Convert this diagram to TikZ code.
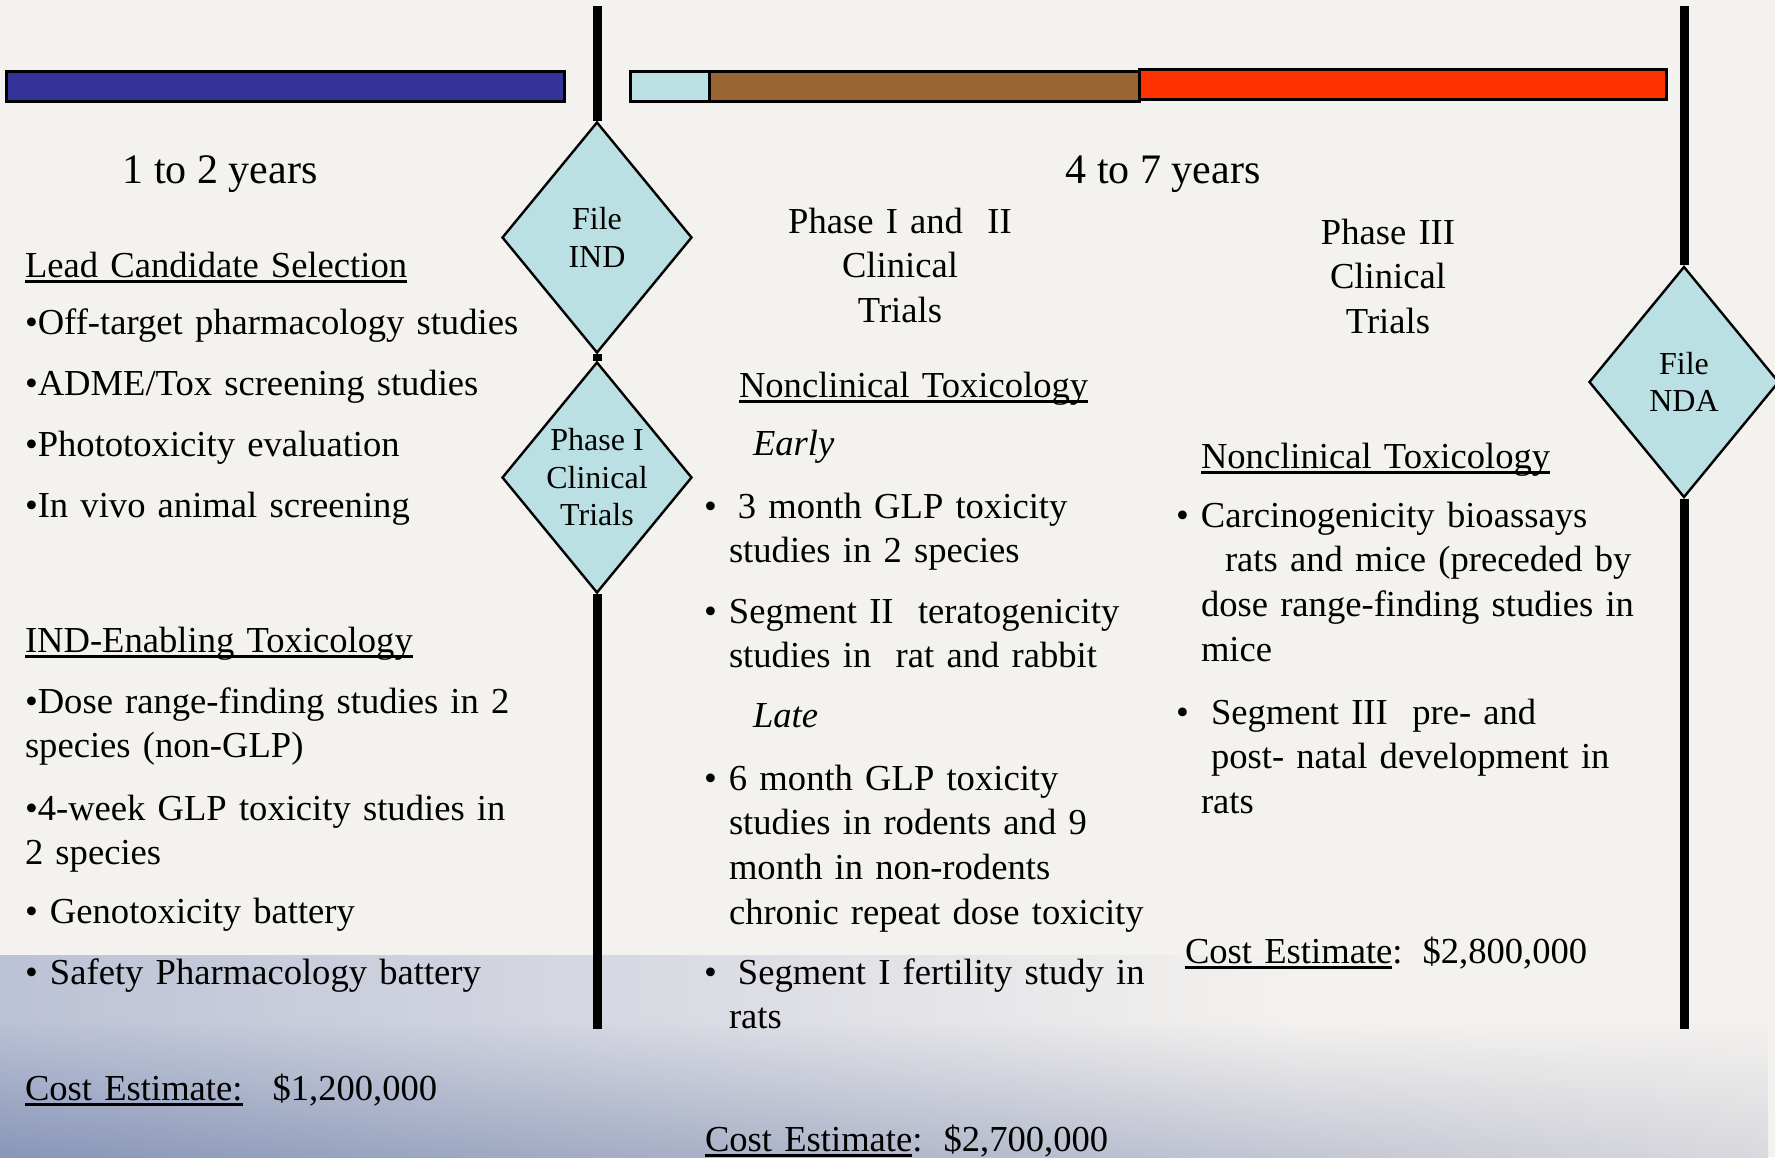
\documentclass[tikz,border=0pt]{standalone}
\usepackage{fontspec}
\setmainfont{Liberation Serif}
\usepackage{xcolor}
\usepackage{tikz}
\usetikzlibrary{shapes.geometric,positioning,backgrounds,fadings}
\definecolor{paper}{HTML}{F4F2EF}
\definecolor{bandtop}{HTML}{BCC2D6}
\definecolor{bandlow}{HTML}{8896B8}
\definecolor{bandright}{HTML}{D9D9DE}
\definecolor{leadblue}{HTML}{333399}
\definecolor{gatefill}{HTML}{BAE0E3}
\definecolor{trialbrown}{HTML}{996633}
\definecolor{trialred}{HTML}{FF3300}
\newsavebox{\ulinebox}
\newcommand{\hdline}[1]{\sbox{\ulinebox}{#1}\rlap{\rule[-5.5pt]{\wd\ulinebox}{2.5pt}}\usebox{\ulinebox}}
\newcommand{\bul}{\makebox[25pt][l]{•}}
\newcommand{\bodyfont}{\fontsize{36.6}{44.7}\selectfont}

\begin{document}
\begin{tikzpicture}[
  x=1pt, y=-1pt,
  txt/.style={anchor=base west, inner sep=0pt, outer sep=0pt, font=\bodyfont, text width=520pt, align=left},
  ctr/.style={anchor=base, inner sep=0pt, font=\bodyfont, text width=300pt, align=center},
  head/.style={anchor=base, inner sep=0pt, font=\fontsize{42}{48}\selectfont},
  gate/.style={diamond, aspect=0.82, draw=black, line width=2.4pt, fill=gatefill, inner sep=0pt, minimum width=190pt, minimum height=231pt, align=center, font=\fontsize{32}{37.5}\selectfont},
  bar/.style={draw=black, line width=3pt},
  rail/.style={line width=9pt, draw=black}
]
\useasboundingbox (0,0) rectangle (1775,1157);

% timeline bars
\draw[bar, fill=leadblue] (6,71) rectangle (564,101);
\draw[bar, fill=gatefill] (630,71) rectangle (709,101);
\draw[bar, fill=trialbrown] (709,71) rectangle (1139,101);
\draw[bar, fill=trialred] (1139,69) rectangle (1666,99);

% milestones
\coordinate (indtop) at (597,6);
\coordinate (indbot) at (597,1029);
\coordinate (ndatop) at (1684,6);
\coordinate (ndabot) at (1684,1029);
\node[gate] (ind) at (597,237.5) {File\\IND};
\node[gate] (ph1) at (597,477.5) {Phase I\\Clinical\\Trials};
\node[gate] (nda) at (1684,382) {File\\NDA};

% durations
\node[head] (yrsA) at (220,183) {1 to 2 years};
\node[head] (yrsB) at (1163,183) {4 to 7 years};

% preclinical column
\node[txt] (leadhd) at (25,277) {\hdline{Lead Candidate Selection}};
\node[txt] (offtgt) at (25,334) {•Off-target pharmacology studies};
\node[txt] (adme) at (25,395) {•ADME/Tox screening studies};
\node[txt] (photo) at (25,456) {•Phototoxicity evaluation};
\node[txt] (invivo) at (25,517) {•In vivo animal screening};
\node[txt] (indhd) at (25,652) {\hdline{IND-Enabling Toxicology}};
\node[txt] (dose) at (25,713) {•Dose range-finding studies in 2\\species (non-GLP)};
\node[txt] (fourwk) at (25,820) {•4-week GLP toxicity studies in\\2 species};
\node[txt] (geno) at (25,923) {• Genotoxicity battery};
\node[txt] (safety) at (25,984) {• Safety Pharmacology battery};
\node[txt] (costA) at (25,1100) {\hdline{Cost Estimate:}\hspace{30pt}\$1,200,000};

% phase I/II column
\node[ctr] (ph12) at (900,233) {Phase I and\ \ II\\Clinical\\Trials};
\node[txt] (nchdA) at (739,397) {\hdline{Nonclinical Toxicology}};
\node[txt] (early) at (753,455) {\textit{Early}};
\node[txt] (mon3) at (704,518) {\bul\hspace{9pt}3 month GLP toxicity\\\hspace*{25pt}studies in 2 species};
\node[txt] (seg2) at (704,623) {\bul Segment II\ \ teratogenicity\\\hspace*{25pt}studies in\ \ rat and rabbit};
\node[txt] (late) at (753,727) {\textit{Late}};
\node[txt] (mon6) at (704,790) {\bul 6 month GLP toxicity\\\hspace*{25pt}studies in rodents and 9\\\hspace*{25pt}month in non-rodents\\\hspace*{25pt}chronic repeat dose toxicity};
\node[txt] (seg1) at (704,984) {\bul\hspace{9pt}Segment I fertility study in\\\hspace*{25pt}rats};
\node[txt] (costB) at (705,1151) {\hdline{Cost Estimate}:\hspace{21pt}\$2,700,000};

% phase III column
\node[ctr] (ph3) at (1388,244) {Phase III\\Clinical\\Trials};
\node[txt] (nchdB) at (1201,468) {\hdline{Nonclinical Toxicology}};
\node[txt] (carc) at (1176,527) {\bul Carcinogenicity bioassays\\\hspace*{49pt}rats and mice (preceded by\\\hspace*{25pt}dose range-finding studies in\\\hspace*{25pt}mice};
\node[txt] (seg3) at (1176,724) {\bul\hspace{10pt}Segment III\ \ pre- and\\\hspace*{35pt}post- natal development in\\\hspace*{25pt}rats};
\node[txt] (costC) at (1185,963) {\hdline{Cost Estimate}:\hspace{20pt}\$2,800,000};

\begin{scope}[on background layer]
  \fill[paper] (0,0) rectangle (1775,1157);
  \shade[left color=bandtop, right color=paper] (0,955) rectangle (1300,1157);
  \shade[left color=bandlow, right color=bandright, path fading=north] (0,1020) rectangle (1775,1157);
  \draw[rail] (indtop) -- (ind.north);
  \draw[rail] (ind.south) -- (ph1.north);
  \draw[rail] (ph1.south) -- (indbot);
  \draw[rail] (ndatop) -- (nda.north);
  \draw[rail] (nda.south) -- (ndabot);
\end{scope}
\end{tikzpicture}
\end{document}
